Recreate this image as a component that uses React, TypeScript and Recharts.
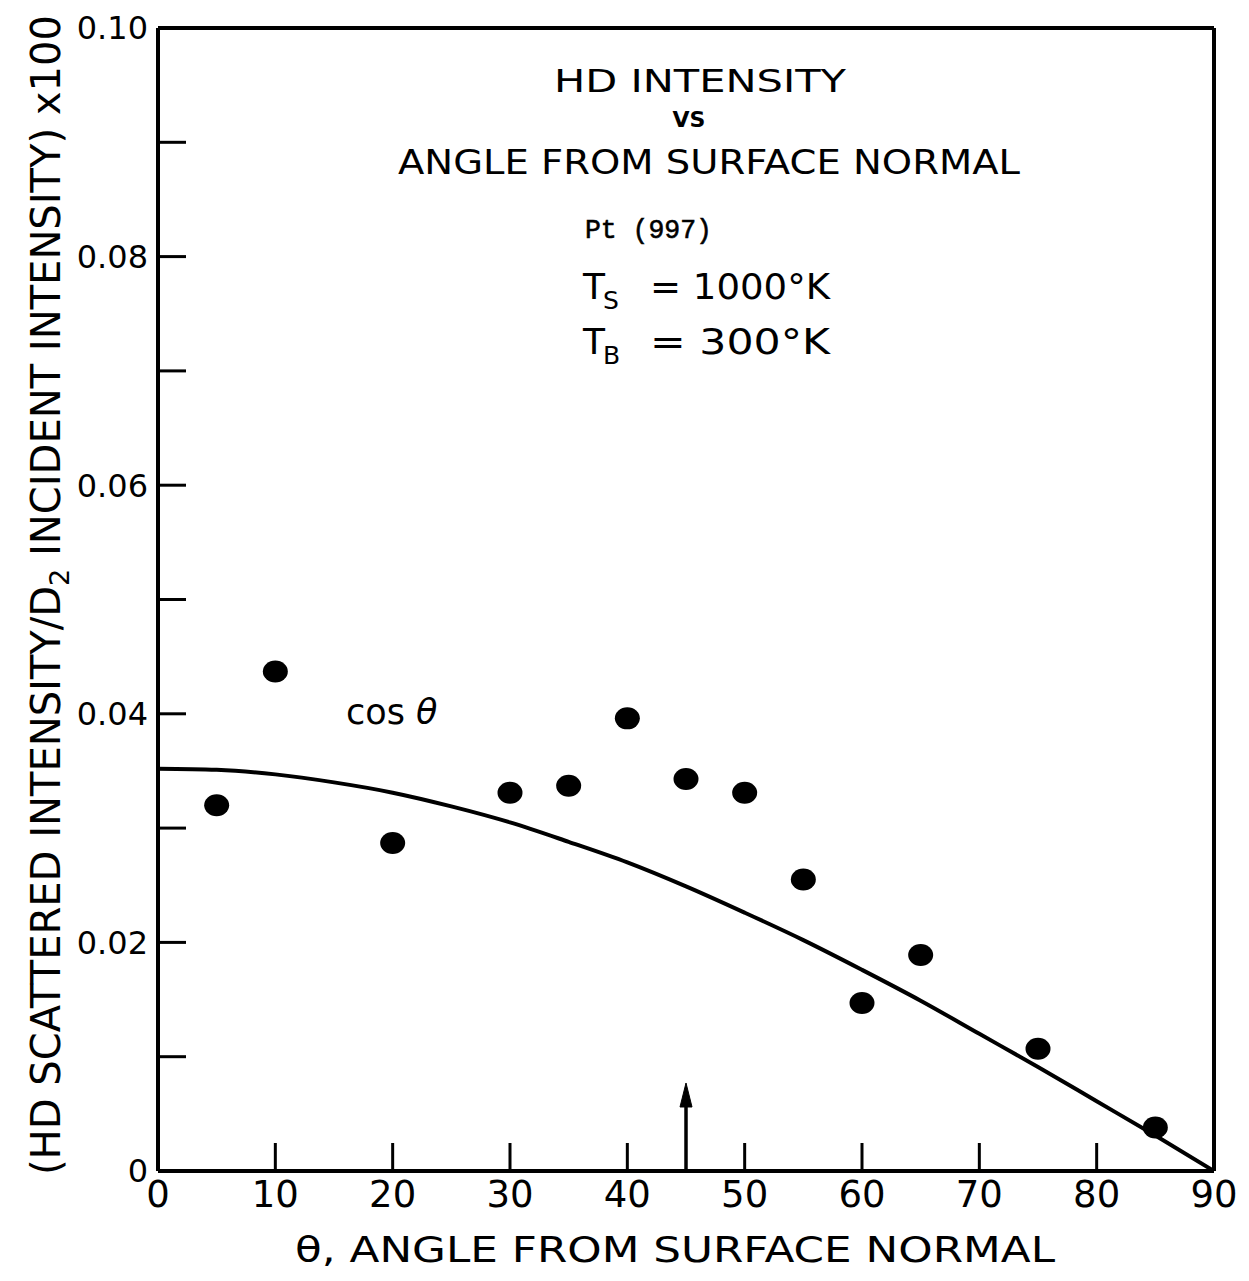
import {
  ComposedChart,
  Scatter,
  Line,
  XAxis,
  YAxis,
  ReferenceLine,
  ReferenceDot,
  Customized,
} from 'recharts';

// measured HD intensity points (angle in degrees, intensity)
const ANGLES = [5, 10, 20, 30, 35, 40, 45, 50, 55, 60, 65, 75, 85];
const HD_INTENSITY = [
  0.032, 0.0437, 0.0287, 0.0331, 0.0337, 0.0396, 0.0343, 0.0331, 0.0255, 0.0147, 0.0189, 0.0107, 0.0038,
];

// the cos theta reference curve
const CURVE_ANGLES = [0, 5, 10, 15, 20, 25, 30, 35, 40, 45, 50, 55, 60, 65, 70, 75, 80, 85, 90];
const CURVE_VALUES = [
  0.0352, 0.0351, 0.0347, 0.034, 0.0331, 0.0319, 0.0305, 0.0288, 0.027, 0.0249, 0.0226, 0.0202, 0.0176,
  0.0149, 0.012, 0.0091, 0.0061, 0.0031, 0,
];

const X_TICKS = [0, 10, 20, 30, 40, 50, 60, 70, 80, 90];
const Y_TICKS = [0, 0.01, 0.02, 0.03, 0.04, 0.05, 0.06, 0.07, 0.08, 0.09, 0.1];

// arrow marking 45 degrees
const ARROW_X = 45;
const ARROW_SHAFT_TOP = 0.0066;
const ARROW_TIP = 0.0077;

const FONT = "'DejaVu Sans', sans-serif";

const points = ANGLES.map((x, i) => ({ x, y: HD_INTENSITY[i] }));
const curve = CURVE_ANGLES.map((x, i) => ({ x, y: CURVE_VALUES[i] }));

const formatY = (v: number) => {
  const k = Math.round(v * 100);
  if (k % 2 !== 0) return '';
  return k === 0 ? '0' : '0.' + String(k).padStart(2, '0');
};

const Dot = (p: any) => <ellipse cx={p.cx} cy={p.cy} rx={12.5} ry={11} fill="#000" />;

const ArrowHead = (p: any) => (
  <path d={`M${p.cx},${p.cy} l-6,24 l12,0 z`} fill="#000" stroke="#000" strokeWidth={1} />
);

const Annotations = () => (
  <g fontFamily={FONT} fill="#000">
    <text x={700} y={92} textAnchor="middle" fontSize={32} textLength={292} lengthAdjust="spacingAndGlyphs">
      HD INTENSITY
    </text>
    <text x={689} y={127} textAnchor="middle" fontSize={22} fontWeight="bold">
      VS
    </text>
    <text x={709} y={174} textAnchor="middle" fontSize={33} textLength={622} lengthAdjust="spacingAndGlyphs">
      ANGLE FROM SURFACE NORMAL
    </text>
    <text
      x={585}
      y={238}
      fontSize={27}
      fontFamily="'Liberation Mono', monospace"
      textLength={127}
      lengthAdjust="spacingAndGlyphs"
      stroke="#000"
      strokeWidth={0.6}
    >
      Pt (997)
    </text>
    <text x={583} y={299} fontSize={36}>T</text>
    <text x={603} y={309} fontSize={25}>S</text>
    <text x={650} y={299} fontSize={36} textLength={180} lengthAdjust="spacingAndGlyphs">
      = 1000°K
    </text>
    <text x={583} y={354} fontSize={36}>T</text>
    <text x={603} y={364} fontSize={25}>B</text>
    <text x={650} y={354} fontSize={36} textLength={180} lengthAdjust="spacingAndGlyphs">
      =  300°K
    </text>
    <text x={346} y={724} fontSize={35}>
      cos <tspan fontStyle="italic">θ</tspan>
    </text>
    <text x={675} y={1262} textAnchor="middle" fontSize={35} textLength={760} lengthAdjust="spacingAndGlyphs">
      θ, ANGLE FROM SURFACE NORMAL
    </text>
    <text
      transform="translate(60,595) rotate(-90)"
      textAnchor="middle"
      fontSize={40}
      textLength={1160}
      lengthAdjust="spacingAndGlyphs"
    >
      (HD SCATTERED INTENSITY/D<tspan fontSize={27} dy={9}>2</tspan>
      <tspan dy={-9}> INCIDENT INTENSITY) x100</tspan>
    </text>
  </g>
);

const xTickStyle = { fill: '#000', fontSize: 37, fontFamily: FONT };
const yTickStyle = { fill: '#000', fontSize: 32, fontFamily: FONT };
const axisLine = { stroke: '#000', strokeWidth: 4 };
const tickLine = { stroke: '#000', strokeWidth: 3 };

export default function App() {
  return (
    <div style={{ position: 'absolute', left: 0, top: 0, background: '#fff' }}>
      <ComposedChart width={1249} height={1281} margin={{ top: 27, right: 34, bottom: 0, left: 0 }}>
        <XAxis
          type="number"
          dataKey="x"
          domain={[0, 90]}
          ticks={X_TICKS}
          allowDataOverflow
          height={110}
          axisLine={axisLine}
          tickLine={tickLine}
          tickSize={-28}
          tickMargin={38}
          tick={xTickStyle}
        />
        <XAxis
          xAxisId="top"
          orientation="top"
          type="number"
          dataKey="x"
          domain={[0, 90]}
          ticks={X_TICKS}
          height={1}
          axisLine={axisLine}
          tickLine={tickLine}
          tickSize={-28}
          tickFormatter={() => ''}
        />
        <YAxis
          type="number"
          domain={[0, 0.1]}
          ticks={Y_TICKS}
          allowDataOverflow
          width={158}
          axisLine={axisLine}
          tickLine={tickLine}
          tickSize={-28}
          tickMargin={38}
          tick={yTickStyle}
          tickFormatter={formatY}
        />
        <YAxis
          yAxisId="right"
          orientation="right"
          type="number"
          domain={[0, 0.1]}
          ticks={Y_TICKS}
          width={1}
          axisLine={axisLine}
          tickLine={tickLine}
          tickSize={-28}
          tickFormatter={() => ''}
        />
        <Line
          data={curve}
          dataKey="y"
          type="monotone"
          stroke="#000"
          strokeWidth={4}
          dot={false}
          isAnimationActive={false}
        />
        <Scatter data={points} dataKey="y" shape={Dot} isAnimationActive={false} />
        <ReferenceLine
          segment={[
            { x: ARROW_X, y: 0 },
            { x: ARROW_X, y: ARROW_SHAFT_TOP },
          ]}
          stroke="#000"
          strokeWidth={3.5}
        />
        <ReferenceDot x={ARROW_X} y={ARROW_TIP} shape={ArrowHead} />
        <Customized component={Annotations} />
      </ComposedChart>
    </div>
  );
}
